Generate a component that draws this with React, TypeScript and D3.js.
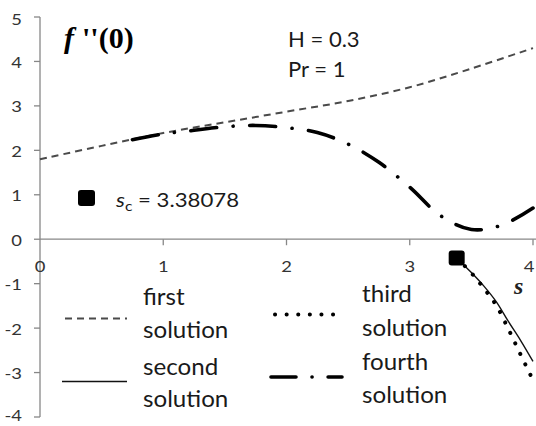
import React from "react";
import * as d3 from "d3";

// f''(0) against s for H = 0.3, Pr = 1 (four solution branches)
const sFirst = [0, 0.5, 1, 1.5, 2, 2.5, 3, 3.5, 4];
const fFirst = [1.8, 2.1, 2.39, 2.63, 2.87, 3.11, 3.42, 3.84, 4.3];

const sSecond = [3.38078, 3.5, 3.6, 3.7, 3.8, 3.9, 4.0];
const fSecond = [-0.42, -0.75, -1.05, -1.4, -1.85, -2.28, -2.75];

const sThird = [3.38078, 3.5, 3.6, 3.7, 3.8, 3.9, 4.0];
const fThird = [-0.42, -0.76, -1.1, -1.48, -2.02, -2.6, -3.17];

const sFourth = [0.75, 1, 1.25, 1.5, 1.75, 2, 2.25, 2.5, 2.75, 3, 3.25, 3.5, 3.75, 4];
const fFourth = [2.24, 2.37, 2.45, 2.53, 2.56, 2.51, 2.4, 2.14, 1.73, 1.17, 0.53, 0.22, 0.32, 0.7];

const sCritical = 3.38078;
const fCritical = -0.42;

const xTicks = [0, 1, 2, 3, 4];
const yTicks = [-4, -3, -2, -1, 0, 1, 2, 3, 4, 5];

const legendFirst = ["first", "solution"];
const legendSecond = ["second", "solution"];
const legendThird = ["third", "solution"];
const legendFourth = ["fourth", "solution"];

const SANS = "Lato, 'Open Sans', sans-serif";
const SERIF = "'Liberation Serif', 'DejaVu Serif', serif";
const INK = "#1a1a1a";
const AXIS = "#878787";

type TP = {
  x: number;
  y: number;
  size: number;
  anchor?: "start" | "middle" | "end";
  family?: string;
  fill?: string;
  sx?: number;
  weight?: string | number;
  italic?: boolean;
  children: React.ReactNode;
};

function Txt({ x, y, size, anchor = "start", family = SANS, fill = INK, sx = 1.05, weight, italic, children }: TP) {
  return (
    <text
      transform={`translate(${x},${y}) scale(${sx},1)`}
      textAnchor={anchor}
      fontFamily={family}
      fontSize={size}
      fill={fill}
      fontWeight={weight}
      fontStyle={italic ? "italic" : undefined}
    >
      {children}
    </text>
  );
}

export default function App() {
  const W = 536;
  const H = 426;
  const x = d3.scaleLinear().domain([0, 4]).range([40, 533]);
  const y = d3.scaleLinear().domain([-4, 5]).range([417, 17]);

  const line = (xs: number[], ys: number[]) =>
    d3
      .line<number>()
      .x((_, i) => x(xs[i]))
      .y((d) => y(d))
      .curve(d3.curveCatmullRom.alpha(0.5))(ys) || "";

  const y0 = y(0);
  const x0 = x(0);

  const legendLine = (x1: number, x2: number, yy: number, style: React.SVGProps<SVGLineElement>) => (
    <line x1={x1} x2={x2} y1={yy} y2={yy} {...style} />
  );

  const firstStyle = { stroke: "#4a4a4a", strokeWidth: 2, strokeDasharray: "7 5", fill: "none" };
  const secondStyle = { stroke: "#111", strokeWidth: 1.4, fill: "none" };
  const thirdStyle = { stroke: "#000", strokeWidth: 4, strokeDasharray: "0.1 11.5", strokeLinecap: "round" as const, fill: "none" };
  const fourthStyle = { stroke: "#000", strokeWidth: 3.6, strokeDasharray: "26 16.5 0.1 16.5", strokeLinecap: "round" as const, fill: "none" };

  return (
    <svg
      width={W}
      height={H}
      viewBox={`0 0 ${W} ${H}`}
      style={{ position: "absolute", left: 0, top: 0, background: "#fff" }}
    >
      <rect width={W} height={H} fill="#fff" />

      {/* axes */}
      <line x1={x0} x2={x0} y1={y(5)} y2={y(-4)} stroke={AXIS} strokeWidth={1.3} />
      <line x1={x0} x2={W} y1={y0} y2={y0} stroke={AXIS} strokeWidth={1.3} />
      {yTicks.map((t) => (
        <g key={`yt${t}`}>
          <line x1={x0 - 6} x2={x0} y1={y(t)} y2={y(t)} stroke={AXIS} strokeWidth={1.3} />
          <Txt x={22} y={y(t) + (t === -4 ? 4 : t === 5 ? 8 : 6.5)} size={16} anchor="end" fill="#333" sx={1.15}>
            {t < 0 ? `-${Math.abs(t)}` : `${t}`}
          </Txt>
        </g>
      ))}
      {xTicks.map((t) => (
        <g key={`xt${t}`}>
          {t > 0 && <line x1={x(t)} x2={x(t)} y1={y0} y2={y0 + 6} stroke={AXIS} strokeWidth={1.3} />}
          <Txt x={t === 4 ? x(t) - 4 : x(t)} y={y0 + 33} size={16} anchor="middle" fill="#333" sx={1.15}>
            {t}
          </Txt>
        </g>
      ))}

      {/* solution branches */}
      <path d={line(sFirst, fFirst)} {...firstStyle} />
      <path d={line(sFourth, fFourth)} {...fourthStyle} />
      <path d={line(sSecond, fSecond)} {...secondStyle} />
      <path d={line(sThird, fThird)} {...thirdStyle} />

      {/* critical point */}
      <rect x={x(sCritical) - 8} y={y(fCritical) - 7.5} width={16} height={15} rx={3} fill="#000" />

      {/* annotations */}
      <text x={64} y={48} fontFamily={SERIF} fontSize={30} fontWeight="bold" fill="#000">
        <tspan fontStyle="italic">f</tspan>
        <tspan dx={8}>''(0)</tspan>
      </text>
      <Txt x={288} y={46.5} size={21}>H = 0.3</Txt>
      <Txt x={288} y={76.5} size={21}>Pr = 1</Txt>

      <rect x={78} y={190} width={17} height={16} rx={3} fill="#000" />
      <text transform={`translate(116,206.5) scale(1.2,1)`} fontFamily={SANS} fontSize={18.5} fill={INK}>
        <tspan fontStyle="italic">s</tspan>
        <tspan fontSize={13} dy={4}>c</tspan>
        <tspan dy={-4}> = 3.38078</tspan>
      </text>

      <text x={514} y={294} fontFamily={SERIF} fontSize={24} fontWeight="bold" fontStyle="italic" fill="#222">
        s
      </text>

      {/* legend */}
      {legendLine(65, 127, 318.5, firstStyle)}
      <Txt x={143} y={305} size={23}>{legendFirst[0]}</Txt>
      <Txt x={143} y={338} size={23}>{legendFirst[1]}</Txt>

      {legendLine(62, 127, 381.5, secondStyle)}
      <Txt x={143} y={375} size={23}>{legendSecond[0]}</Txt>
      <Txt x={143} y={407} size={23}>{legendSecond[1]}</Txt>

      {legendLine(275, 338, 314.5, thirdStyle)}
      <Txt x={362} y={301.5} size={23}>{legendThird[0]}</Txt>
      <Txt x={362} y={336} size={23}>{legendThird[1]}</Txt>

      {legendLine(271, 342, 377, { ...fourthStyle, strokeDasharray: "25 16 0.1 16" })}
      <Txt x={362} y={370} size={23}>{legendFourth[0]}</Txt>
      <Txt x={362} y={403} size={23}>{legendFourth[1]}</Txt>
    </svg>
  );
}
